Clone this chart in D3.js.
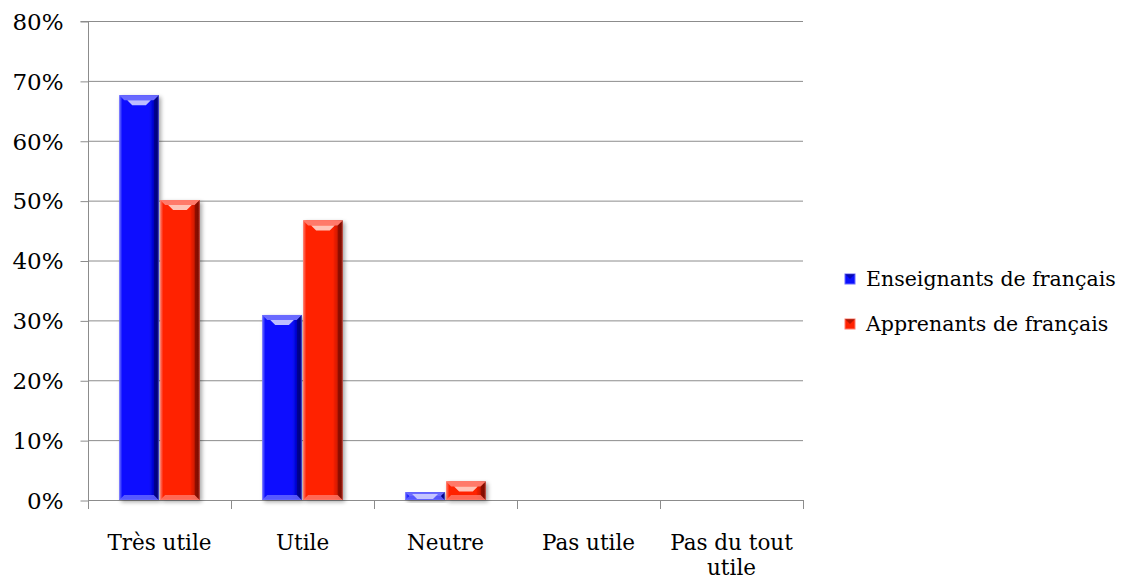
<!DOCTYPE html>
<html><head><meta charset="utf-8">
<script src="https://cdn.jsdelivr.net/npm/d3@7"></script>
<style>
body{margin:0;background:#fff;}
text{font-family:"DejaVu Serif",serif;fill:#000;}
</style></head>
<body><svg id="c" width="1133" height="582"></svg>
<script>
const categories = ["Très utile", "Utile", "Neutre", "Pas utile", "Pas du tout utile"];
const seriesNames = ["Enseignants de français", "Apprenants de français"];
const enseignants = [0.676, 0.309, 0.013, 0, 0];
const apprenants = [0.501, 0.467, 0.031, 0, 0];
const yTicks = [0, 0.1, 0.2, 0.3, 0.4, 0.5, 0.6, 0.7, 0.8];

const svg = d3.select("#c");
const M = {left: 88, right: 803, top: 21, bottom: 500};
const x0 = d3.scaleBand().domain(categories).range([M.left, M.right]).paddingInner(0.42).paddingOuter(0.21);
const x1 = d3.scaleBand().domain(seriesNames).range([0, x0.bandwidth()]).padding(0.03);
const y = d3.scaleLinear().domain([0, 0.8]).range([M.bottom, M.top]);
const xOuter = d3.scaleBand().domain(categories).range([M.left, M.right]);

const colors = {
  "Enseignants de français": {base:"#0a10ff", light:"#6a6aff", hi:"#d0d0ff", dark:"#000070", mid:"#0000c8"},
  "Apprenants de français": {base:"#ff2200", light:"#ff7a6a", hi:"#ffd6cc", dark:"#700800", mid:"#c81800"}
};
const defs = svg.append("defs");
seriesNames.forEach((s,i)=>{
  const c = colors[s];
  const g = defs.append("linearGradient").attr("id","g"+i).attr("x1","0").attr("x2","1").attr("y1","0").attr("y2","0");
  g.append("stop").attr("offset","0").attr("stop-color",c.light);
  g.append("stop").attr("offset","0.08").attr("stop-color",c.base);
  g.append("stop").attr("offset","0.75").attr("stop-color",c.base);
  g.append("stop").attr("offset","0.88").attr("stop-color",c.mid);
  g.append("stop").attr("offset","1").attr("stop-color",c.dark);
});
const f = defs.append("filter").attr("id","sh").attr("x","-20%").attr("y","-20%").attr("width","150%").attr("height","150%");
f.append("feGaussianBlur").attr("in","SourceAlpha").attr("stdDeviation",2);
f.append("feOffset").attr("dx",2).attr("dy",2).attr("result","b");
f.append("feComponentTransfer").append("feFuncA").attr("type","linear").attr("slope",0.35);
const fm = f.append("feMerge"); fm.append("feMergeNode"); fm.append("feMergeNode").attr("in","SourceGraphic");

// gridlines
svg.append("g").selectAll("line").data(yTicks.slice(1)).join("line")
  .attr("x1",M.left).attr("x2",M.right).attr("y1",d=>y(d)+0.5).attr("y2",d=>y(d)+0.5)
  .attr("stroke","#8c8c8c").attr("stroke-width",1);

// y axis
const yAxis = svg.append("g").attr("transform",`translate(${M.left+0.5},0)`)
  .call(d3.axisLeft(y).tickValues(yTicks).tickFormat(d3.format(".0%")).tickSize(8).tickPadding(18));
yAxis.select(".domain").attr("stroke","#8c8c8c").attr("d",`M-8,${M.top+0.5}H0V${M.bottom+0.5}`);
yAxis.selectAll(".tick line").attr("stroke","#8c8c8c").attr("transform","translate(0,0.5)");
yAxis.selectAll(".tick text").style("font-size","23px").style("font-family","'DejaVu Serif',serif").attr("dy","0.36em").attr("x",-25);

// x axis
const xAxis = svg.append("g").attr("transform",`translate(0,${M.bottom+0.5})`)
  .call(d3.axisBottom(xOuter).tickSize(0).tickFormat(""));
xAxis.select(".domain").attr("stroke","#8c8c8c").attr("d",`M${M.left},0H${M.right}`);
svg.append("g").selectAll("line").data(d3.range(categories.length+1)).join("line")
  .attr("x1",i=>Math.round(M.left + i*xOuter.step())+0.5).attr("x2",i=>Math.round(M.left + i*xOuter.step())+0.5)
  .attr("y1",M.bottom).attr("y2",M.bottom+9).attr("stroke","#8c8c8c");

// x labels (wrapped)
const lines = {"Pas du tout utile":["Pas du tout","utile"]};
svg.append("g").selectAll("text").data(categories).join("text")
  .attr("x",d=>xOuter(d)+xOuter.bandwidth()/2).attr("y",550)
  .attr("text-anchor","middle").style("font-size","21.5px")
  .each(function(d){
    const ls = lines[d] || [d];
    const cx = xOuter(d)+xOuter.bandwidth()/2;
    d3.select(this).selectAll("tspan").data(ls).join("tspan")
      .attr("x",cx).attr("dy",(t,i)=>i?25:0).text(t=>t);
  });

// bars
const data = [enseignants, apprenants];
function bevelBar(g, x, yTop, w, h, c, gid){
  const bg = g.append("g").attr("filter","url(#sh)");
  bg.append("rect").attr("x",x).attr("y",yTop).attr("width",w).attr("height",h).attr("fill",`url(#${gid})`);
  const b = Math.min(5, h/2);
  bg.append("path").attr("d",`M${x},${yTop}H${x+w}L${x+w-b},${yTop+b}H${x+b}Z`).attr("fill",c.light);
  bg.append("path").attr("d",`M${x},${yTop+h}H${x+w}L${x+w-b},${yTop+h-b}H${x+b}Z`).attr("fill",c.light).attr("opacity",0.8);
  bg.append("path").attr("d",`M${x+w},${yTop}V${yTop+h}L${x+w-b},${yTop+h-b}V${yTop+b}Z`).attr("fill",c.dark).attr("opacity",0.6);
  if(h>6){
    const hy = yTop + Math.min(b+2, h/2);
    bg.append("path").attr("d",`M${x+b+3},${hy-2}H${x+w-b-3}L${x+w-b-8},${hy+3}H${x+b+8}Z`).attr("fill",c.hi).attr("opacity",0.9);
  }
  bg.append("rect").attr("x",x+0.5).attr("y",yTop+0.5).attr("width",w-1).attr("height",Math.max(0,h-1))
    .attr("fill","none").attr("stroke",c.light).attr("stroke-opacity",0.6);
}
const barsG = svg.append("g");
seriesNames.forEach((s,si)=>{
  categories.forEach((cat,ci)=>{
    const v = data[si][ci];
    if(v<=0) return;
    const xx = x0(cat)+x1(s), w = x1.bandwidth();
    bevelBar(barsG, xx, y(v), w, y(0)-y(v), colors[s], "g"+si);
  });
});

// legend
const lg = svg.append("g");
seriesNames.forEach((s,i)=>{
  const yy = 279 + i*45;
  const c = colors[s];
  lg.append("rect").attr("x",845).attr("y",yy-5).attr("width",10).attr("height",10).attr("fill",c.base).attr("stroke",c.light);
  lg.append("path").attr("d",`M845,${yy-5}L850,${yy}L855,${yy-5}Z`).attr("fill",c.dark).attr("opacity",0.5);
  lg.append("text").attr("x",866).attr("y",yy).attr("dy","0.36em").style("font-size","20.5px").text(s);
});
</script></body></html>
